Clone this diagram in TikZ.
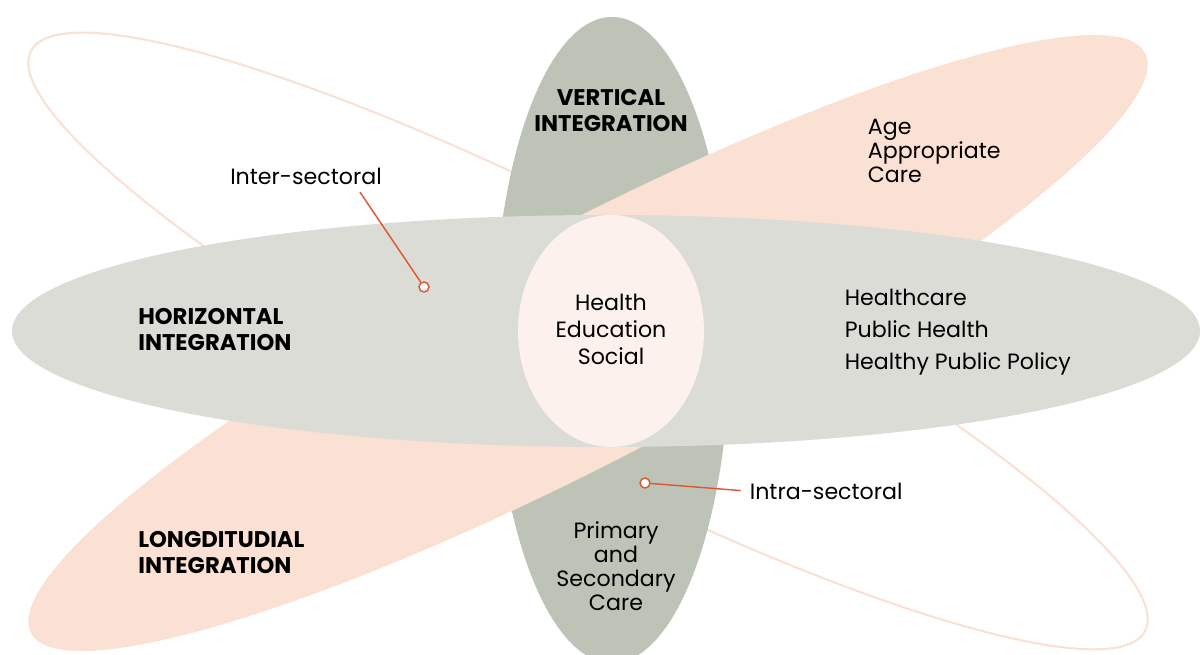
\documentclass[tikz,border=0pt]{standalone}
\usepackage{fontspec}
\setmainfont{Poppins}
\usepackage{tikz}
\definecolor{sage}{HTML}{BEC3B8}
\definecolor{mist}{HTML}{DBDCD6}
\definecolor{peach}{HTML}{FBE0D4}
\definecolor{blush}{HTML}{FCF1EC}
\definecolor{rust}{HTML}{E0532F}

\begin{document}
\begin{tikzpicture}[x=0.02cm, y=0.02cm,
    txt/.style={font=\fontsize{12.6}{13.7}\selectfont, inner sep=2pt},
    heading/.style={font=\fontsize{12.9}{14.8}\selectfont\bfseries,
        align=left, anchor=west, inner sep=0pt},
    ring/.style={circle, draw=rust, fill=white, line width=0.8pt,
        inner sep=0pt, minimum size=0.2cm},
    leader/.style={draw=rust, line width=0.8pt}]

    \useasboundingbox (0,0) rectangle (1200,655);

    % petals, back to front
    \draw[peach, line width=1.2pt, rotate around={-27.5:(588,314)}]
        (588,314) ellipse [x radius=628, y radius=118];
    \fill[sage] (612,315) ellipse [x radius=118, y radius=323];
    \fill[peach, rotate around={27.5:(588,312)}]
        (588,312) ellipse [x radius=628, y radius=117];
    \fill[mist] (606,324) ellipse [x radius=594, y radius=116];
    \fill[blush] (611,324) ellipse [x radius=93, y radius=116];

    \node[heading, align=center, anchor=center] (vert) at (611,544)
        {VERTICAL\\INTEGRATION};
    \node[heading] (horiz) at (138,325) {HORIZONTAL\\INTEGRATION};
    \node[heading] (longi) at (138,102) {LONGDITUDIAL\\INTEGRATION};

    \node[txt, align=left, anchor=west] (age) at (864,504)
        {Age\\Appropriate\\Care};
    \node[txt, align=center, font=\fontsize{12.6}{15.4}\selectfont] (core)
        at (611,326) {Health\\Education\\Social};
    \node[txt, align=left, anchor=west, font=\fontsize{12.6}{18.2}\selectfont]
        (levels) at (841,323) {Healthcare\\Public Health\\Healthy Public Policy};
    \node[txt, align=center] (care) at (616,89)
        {Primary\\and\\Secondary\\Care};

    \node[txt] (inter) at (306,479) {Inter-sectoral};
    \node[ring] (interdot) at (424,368) {};
    \node[txt, anchor=west] (intra) at (746,164) {Intra-sectoral};
    \node[ring] (intradot) at (645,172) {};

    \draw[leader] ([shift={(54,-4)}]inter.south) -- (interdot);
    \draw[leader, shorten >=3pt] (intradot) -- (intra.west);
\end{tikzpicture}
\end{document}
